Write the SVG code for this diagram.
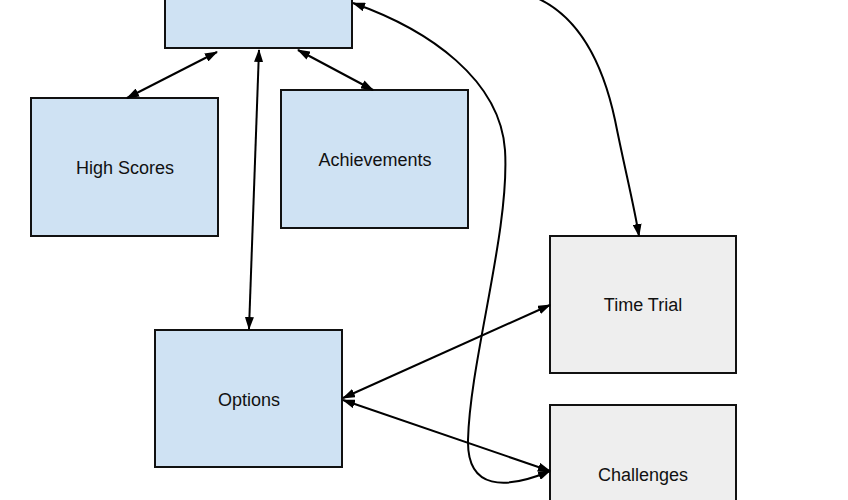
<svg xmlns="http://www.w3.org/2000/svg" width="848" height="500" viewBox="0 0 848 500">
<defs>
<marker id="arr" viewBox="0 0 13 9" refX="12" refY="4.5" markerWidth="13" markerHeight="9" markerUnits="userSpaceOnUse" orient="auto-start-reverse">
<path d="M0,0 L13,4.5 L0,9 z" fill="#000"/>
</marker>
<style>
.blue{fill:#cfe2f3;stroke:#111;stroke-width:2}
.grey{fill:#eeeeee;stroke:#111;stroke-width:2}
.lbl{font-family:"Liberation Sans",Arial,sans-serif;font-size:18px;fill:#111;text-anchor:middle;dominant-baseline:central}
.c{fill:none;stroke:#000;stroke-width:2}
.both{marker-start:url(#arr);marker-end:url(#arr)}
.end{marker-end:url(#arr)}
</style>
</defs>
<rect width="848" height="500" fill="#fff"/>
<g id="main"><rect class="blue" x="165" y="-90" width="187" height="138"/></g>
<g id="highscores"><rect class="blue" x="31" y="98" width="187" height="138"/><text class="lbl" x="125" y="168">High Scores</text></g>
<g id="achievements"><rect class="blue" x="281" y="90" width="187" height="138"/><text class="lbl" x="375" y="160">Achievements</text></g>
<g id="options"><rect class="blue" x="155" y="330" width="187" height="137"/><text class="lbl" x="249" y="400">Options</text></g>
<g id="timetrial"><rect class="grey" x="550" y="236" width="186" height="137"/><text class="lbl" x="643" y="305">Time Trial</text></g>
<g id="challenges"><rect class="grey" x="550" y="405" width="186" height="140"/><text class="lbl" x="643" y="475">Challenges</text></g>
<g id="connectors">
<path class="c both" d="M217,52 L127,98"/>
<path class="c both" d="M259,50 L249,329"/>
<path class="c both" d="M298,50 L373,90"/>
<path class="c both" d="M353,3 C430,30 500,80 505,150 C510,230 470,360 468,440 C467,490 505,490 550,471"/>
<path class="c end" d="M520,-8 C570,5 600,50 615,120 C625,170 634,205 639,236"/>
<path class="c both" d="M343,398 L550,305"/>
<path class="c both" d="M343,400 L550,471"/>
</g>
</svg>
